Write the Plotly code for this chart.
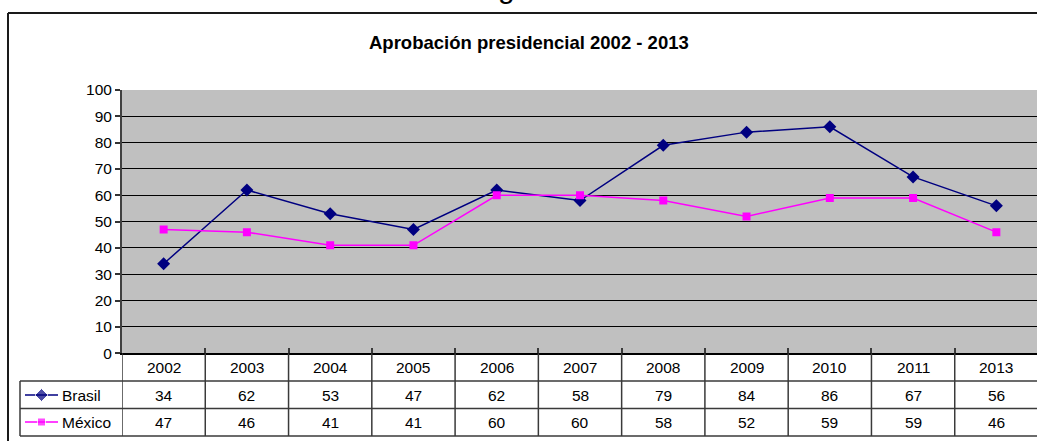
import plotly.graph_objects as go

# Approval data (%)
years = ["2002", "2003", "2004", "2005", "2006", "2007", "2008", "2009", "2010", "2011", "2013"]
brasil = [34, 62, 53, 47, 62, 58, 79, 84, 86, 67, 56]
mexico = [47, 46, 41, 41, 60, 60, 58, 52, 59, 59, 46]
series_names = ["Brasil", "México"]
y_ticks = list(range(0, 101, 10))

W, H = 1037, 441
FONT = "Arial, Liberation Sans, sans-serif"
NAVY = "#000080"
MAGENTA = "#FF00FF"
LINE = "#3a3a3a"


def px(x):
    return x / W


def py(y):
    return 1 - y / H


# pixel layout of plot area and data table
PLOT_L, PLOT_T, PLOT_B = 122, 90, 353.3
ROW_LINES = [381, 408.5, 436]
ROW_CENTERS = [367, 395, 422]
TABLE_L = 20

fig = go.Figure()

fig.add_trace(go.Scatter(
    x=years, y=brasil, name=series_names[0], mode="lines+markers",
    line=dict(color=NAVY, width=1.5),
    marker=dict(symbol="diamond", size=10, color=NAVY),
    xaxis="x", yaxis="y", showlegend=False,
))
fig.add_trace(go.Scatter(
    x=years, y=mexico, name=series_names[1], mode="lines+markers",
    line=dict(color=MAGENTA, width=1.5),
    marker=dict(symbol="square", size=8, color=MAGENTA),
    xaxis="x", yaxis="y", showlegend=False,
))

# legend keys inside the data table's first column
key_rows = [395 - ROW_LINES[0], 422 - ROW_LINES[0]]
for name, color, sym, size, ky in [
    (series_names[0], NAVY, "diamond", 10, key_rows[0]),
    (series_names[1], MAGENTA, "square", 8, key_rows[1]),
]:
    fig.add_trace(go.Scatter(
        x=[5, 21.5, 38], y=[ky, ky, ky], mode="lines+markers",
        line=dict(color=color, width=1.5),
        marker=dict(symbol=sym, size=[0, size, 0], color=color),
        xaxis="x2", yaxis="y2", showlegend=False, hoverinfo="skip",
    ))

shapes = []
# white background for the legend-key cells
shapes.append(dict(type="rect", xref="x2 domain", yref="y2 domain", x0=0, x1=1, y0=0, y1=1,
                   fillcolor="white", line=dict(width=0), layer="below"))
# outer chart frame (left and top edges)
shapes.append(dict(type="line", xref="paper", yref="paper",
                   x0=px(8), x1=px(8), y0=py(13), y1=py(445),
                   line=dict(color="#1a1a1a", width=2)))
shapes.append(dict(type="line", xref="paper", yref="paper",
                   x0=px(8), x1=px(1045), y0=py(13), y1=py(13),
                   line=dict(color="#1a1a1a", width=2)))

# data table: horizontal rules
for yl in ROW_LINES:
    shapes.append(dict(type="line", xref="paper", yref="paper",
                       x0=px(TABLE_L), x1=1.01, y0=py(yl), y1=py(yl),
                       line=dict(color=LINE, width=1.5)))
# table left edge
shapes.append(dict(type="line", xref="paper", yref="paper",
                   x0=px(TABLE_L), x1=px(TABLE_L), y0=py(ROW_LINES[0]), y1=py(ROW_LINES[-1]),
                   line=dict(color=LINE, width=1.5)))
# column separators, on category boundaries
for i in range(len(years) + 1):
    shapes.append(dict(type="line", xref="x", yref="paper",
                       x0=i - 0.5, x1=i - 0.5, y0=py(PLOT_B), y1=py(ROW_LINES[-1]),
                       line=dict(color=LINE, width=1.5)))

annotations = []
annotations.append(dict(text="<b>Aprobación presidencial 2002 - 2013</b>", xref="paper", yref="paper",
                        x=px(529), y=py(42), xanchor="center", yanchor="middle",
                        showarrow=False, font=dict(family=FONT, size=18.5, color="black"),
                        ))
annotations.append(dict(text="Figura 3", xref="paper", yref="paper",
                        x=px(528), y=py(-13), xanchor="center", yanchor="middle",
                        showarrow=False, font=dict(family=FONT, size=30, color="black")))

cell_font = dict(family=FONT, size=15.5, color="black")
# category positions are given by index on the category axis
for i, yr in enumerate(years):
    annotations.append(dict(text=yr, xref="x", yref="paper", x=i, y=py(ROW_CENTERS[0]),
                            xanchor="center", yanchor="middle", showarrow=False, font=cell_font))
for row, vals in enumerate([brasil, mexico]):
    for i, v in enumerate(vals):
        annotations.append(dict(text=str(v), xref="x", yref="paper", x=i,
                                y=py(ROW_CENTERS[row + 1]), xanchor="center", yanchor="middle",
                                showarrow=False, font=cell_font))
    annotations.append(dict(text=series_names[row], xref="paper", yref="paper", x=px(60),
                            y=py(ROW_CENTERS[row + 1]), xanchor="left", yanchor="middle",
                            showarrow=False, font=cell_font))

fig.update_layout(
    width=W, height=H,
    margin=dict(l=0, r=0, t=0, b=0),
    paper_bgcolor="white",
    plot_bgcolor="#C0C0C0",
    font=dict(family=FONT, size=15.5, color="black"),
    shapes=shapes,
    annotations=annotations,
    xaxis=dict(
        type="category", domain=[px(PLOT_L), 1], range=[-0.5, 10.488],
        showgrid=False, zeroline=False, showticklabels=False,
        ticks="inside", tickson="boundaries", ticklen=5, tickcolor=LINE, tickwidth=1.5,
        showline=True, linecolor="black", linewidth=2, automargin=False, fixedrange=True,
    ),
    yaxis=dict(
        domain=[py(PLOT_B), py(PLOT_T)], range=[0, 100], tickvals=y_ticks,
        showgrid=True, gridcolor="black", gridwidth=1, zeroline=False,
        ticks="outside", ticklen=5, tickcolor="#333", tickwidth=1.5,
        showline=True, linecolor="#404040", linewidth=2,
        tickfont=dict(family=FONT, size=15.5, color="black"),
        automargin=False, fixedrange=True,
    ),
    xaxis2=dict(domain=[px(TABLE_L), px(PLOT_L)], range=[0, 102], visible=False,
                anchor="y2", fixedrange=True),
    yaxis2=dict(domain=[py(ROW_LINES[-1]), py(ROW_LINES[0])], range=[ROW_LINES[-1] - ROW_LINES[0], 0],
                visible=False, anchor="x2", fixedrange=True),
)

fig.write_html("out.html")
